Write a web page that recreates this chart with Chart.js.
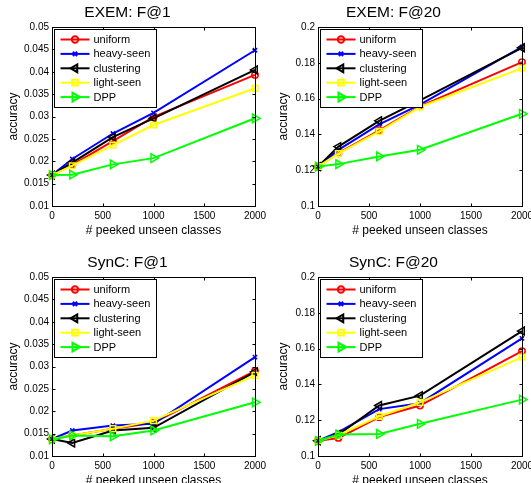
<!DOCTYPE html>
<html>
<head>
<meta charset="utf-8">
<script src="https://cdn.jsdelivr.net/npm/chart.js@4"></script>
<style>
  html, body { margin: 0; padding: 0; background: #fff; overflow: hidden; width: 531px; height: 483px; }
  canvas { position: absolute; }
</style>
</head>
<body>
<canvas id="c1" style="left:0;top:0" width="280" height="240"></canvas>
<canvas id="c2" style="left:265px;top:0" width="266" height="240"></canvas>
<canvas id="c3" style="left:0;top:250px" width="280" height="240"></canvas>
<canvas id="c4" style="left:265px;top:250px" width="266" height="240"></canvas>
<script>
// x values: number of peeked unseen classes
const peeked = [0, 200, 600, 1000, 2000];
const methods = ['uniform', 'heavy-seen', 'clustering', 'light-seen', 'DPP'];

// one row per method, same order as methods
const exemF1 = [
  [0.0169, 0.0192, 0.0245, 0.0299, 0.0393],
  [0.0169, 0.0205, 0.0262, 0.0308, 0.0448],
  [0.0169, 0.0197, 0.0254, 0.0296, 0.0404],
  [0.0169, 0.0190, 0.0236, 0.0281, 0.0363],
  [0.0169, 0.0170, 0.0193, 0.0207, 0.0296]
];
const exemF20 = [
  [0.122, 0.1295, 0.1423, 0.1557, 0.1804],
  [0.122, 0.1314, 0.1456, 0.1566, 0.1889],
  [0.122, 0.1332, 0.1476, 0.1590, 0.1884],
  [0.122, 0.1293, 0.1417, 0.1553, 0.1770],
  [0.122, 0.1234, 0.1277, 0.1314, 0.1515]
];
const syncF1 = [
  [0.0138, 0.0146, 0.0161, 0.0174, 0.0290],
  [0.0138, 0.0157, 0.0168, 0.0172, 0.0321],
  [0.0138, 0.0129, 0.0157, 0.0163, 0.0288],
  [0.0138, 0.0146, 0.0161, 0.0179, 0.0280],
  [0.0137, 0.0146, 0.0144, 0.0157, 0.0220]
];
const syncF20 = [
  [0.1085, 0.1101, 0.1217, 0.1282, 0.1586],
  [0.1085, 0.1133, 0.1262, 0.1295, 0.1657],
  [0.1085, 0.1120, 0.1282, 0.1337, 0.1698],
  [0.1085, 0.1116, 0.1221, 0.1300, 0.1552],
  [0.1085, 0.1120, 0.1123, 0.1180, 0.1315]
];

const FONT = '"Liberation Sans", Arial, sans-serif';
const colors = ['#ff0000', '#0000ff', '#000000', '#ffff00', '#00ff00'];
const markers = [
  { style: 'circle', radius: 3.2, rotation: 0 },
  { style: 'crossRot', radius: 3, rotation: 0 },
  { style: 'triangle', radius: 4.5, rotation: -90 },
  { style: 'rect', radius: 4, rotation: 0 },
  { style: 'triangle', radius: 5, rotation: 90 }
];

// boite + ticks vers l'interieur, style matlab
const matlabAxes = {
  id: 'matlabAxes',
  afterDatasetsDraw(chart) {
    const ctx = chart.ctx;
    const a = chart.chartArea;
    const L = Math.round(a.left) + 0.5, R = Math.round(a.right) + 0.5;
    const T = Math.round(a.top) + 0.5, B = Math.round(a.bottom) + 0.5;
    ctx.save();
    ctx.strokeStyle = '#000';
    ctx.lineWidth = 1;
    ctx.beginPath();
    chart.scales.x.ticks.forEach(t => {
      const px = Math.round(chart.scales.x.getPixelForValue(t.value)) + 0.5;
      ctx.moveTo(px, B); ctx.lineTo(px, B - 3);
      ctx.moveTo(px, T); ctx.lineTo(px, T + 3);
    });
    chart.scales.y.ticks.forEach(t => {
      const py = Math.round(chart.scales.y.getPixelForValue(t.value)) + 0.5;
      ctx.moveTo(L, py); ctx.lineTo(L + 3, py);
      ctx.moveTo(R, py); ctx.lineTo(R - 3, py);
    });
    ctx.stroke();
    ctx.strokeRect(L, T, R - L, B - T);
    ctx.restore();
  },
  afterDraw(chart) {
    const ctx = chart.ctx;
    const a = chart.chartArea;
    const bx = Math.round(a.left) + 2.5, by = Math.round(a.top) + 2.5;
    ctx.save();
    ctx.fillStyle = '#fff';
    ctx.strokeStyle = '#000';
    ctx.lineWidth = 1;
    ctx.fillRect(bx, by, 102, 78);
    ctx.strokeRect(bx, by, 102, 78);
    ctx.font = '11px ' + FONT;
    ctx.textBaseline = 'middle';
    methods.forEach((m, i) => {
      const y = by + 10 + i * 14.4;
      ctx.strokeStyle = colors[i];
      ctx.lineWidth = 2;
      ctx.beginPath();
      ctx.moveTo(bx + 6, y); ctx.lineTo(bx + 35, y);
      ctx.stroke();
      ctx.fillStyle = 'rgba(0,0,0,0)';
      Chart.helpers.drawPoint(ctx, {
        pointStyle: markers[i].style, rotation: markers[i].rotation,
        radius: markers[i].radius, borderWidth: 1.5
      }, bx + 20.5, y);
      ctx.fillStyle = '#000';
      ctx.fillText(m, bx + 39, y + 0.5);
    });
    ctx.restore();
  }
};

function makeChart(id, title, series, yMin, yMax, yStep, yWidth, padRight, yTitlePad) {
  const datasets = methods.map((m, i) => ({
    label: m,
    data: peeked.map((x, j) => ({ x: x, y: series[i][j] })),
    borderColor: colors[i],
    borderWidth: 2,
    pointStyle: markers[i].style,
    pointRotation: markers[i].rotation,
    pointRadius: markers[i].radius,
    pointBorderWidth: 1.5,
    pointBorderColor: colors[i],
    pointBackgroundColor: 'rgba(0,0,0,0)',
    tension: 0,
    clip: false,
    order: methods.length - i
  }));

  return new Chart(document.getElementById(id), {
    type: 'line',
    data: { datasets: datasets },
    options: {
      responsive: false,
      animation: false,
      events: [],
      layout: { padding: { left: 0, right: padRight, top: 0, bottom: 0 } },
      plugins: {
        legend: { display: false },
        tooltip: { enabled: false },
        title: {
          display: true, text: title, color: '#000',
          font: { family: FONT, size: 15.5, weight: 'normal' },
          padding: { top: 3, bottom: 5.4 }
        }
      },
      scales: {
        x: {
          type: 'linear', min: 0, max: 2000,
          grid: { display: false, drawTicks: false },
          border: { display: false },
          ticks: {
            stepSize: 500, color: '#000', padding: 4, maxRotation: 0,
            font: { family: FONT, size: 10 },
            callback: v => String(v)
          },
          title: {
            display: true, text: '# peeked unseen classes', color: '#000',
            font: { family: FONT, size: 12 }, padding: { top: 0, bottom: 2 }
          },
          afterFit: s => { s.height = 34; s.paddingLeft = 0; s.paddingRight = 0; }
        },
        y: {
          type: 'linear', min: yMin, max: yMax,
          grid: { display: false, drawTicks: false },
          border: { display: false },
          ticks: {
            stepSize: yStep, color: '#000', padding: 3, font: { family: FONT, size: 10 },
            callback: v => String(+v.toFixed(3))
          },
          title: {
            display: true, text: 'accuracy', color: '#000',
            font: { family: FONT, size: 12 }, padding: { top: yTitlePad, bottom: 0 }
          },
          afterFit: s => { s.width = yWidth; }
        }
      }
    },
    plugins: [matlabAxes]
  });
}

makeChart('c1', 'EXEM: F@1', exemF1, 0.01, 0.05, 0.005, 52, 25, 6);
makeChart('c2', 'EXEM: F@20', exemF20, 0.1, 0.2, 0.02, 53, 9, 11);
makeChart('c3', 'SynC: F@1', syncF1, 0.01, 0.05, 0.005, 52, 25, 6);
makeChart('c4', 'SynC: F@20', syncF20, 0.1, 0.2, 0.02, 53, 9, 11);
</script>
</body>
</html>
